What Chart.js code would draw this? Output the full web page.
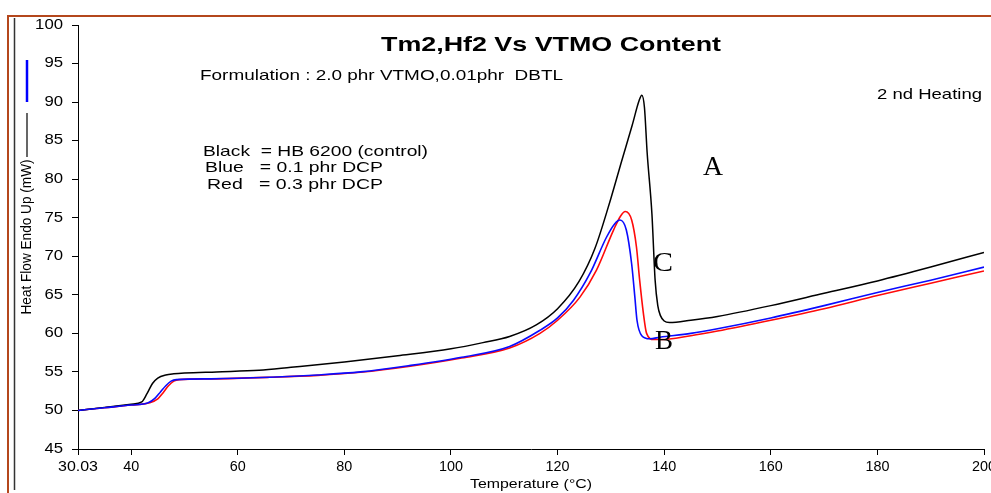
<!DOCTYPE html>
<html>
<head>
<meta charset="utf-8">
<script src="https://cdn.jsdelivr.net/npm/chart.js@4.4.1/dist/chart.umd.min.js"></script>
<style>
  html, body { margin: 0; padding: 0; background: #fff; }
  #wrap { position: relative; width: 991px; height: 493px; }
</style>
</head>
<body>
<div id="wrap"><canvas id="dsc" width="991" height="493"></canvas></div>
<script>
// DSC traces (Temperature in °C, Heat Flow in mW)
const blackTemp = [30.03, 35, 40, 42, 43, 44, 45, 46.5, 48, 50, 56, 64, 70, 80, 90, 100, 106, 111, 116, 120, 124, 127, 130, 132, 134, 135.3, 135.8, 136.3, 136.8, 137.7, 138.3, 138.8, 139.3, 140.0, 141.0, 145, 150, 160, 170, 180, 190, 200];
const blackFlow = [50.0, 50.4, 50.8, 51.1, 52.2, 53.5, 54.2, 54.6, 54.75, 54.85, 55.0, 55.2, 55.6, 56.3, 57.1, 58.0, 58.8, 59.6, 61.1, 63.2, 66.7, 71.0, 77.5, 82.3, 87.0, 90.2, 90.9, 89.3, 83.5, 75.5, 66.9, 63.6, 62.3, 61.6, 61.4, 61.7, 62.2, 63.6, 65.2, 66.8, 68.6, 70.5];

const blueTemp = [30.03, 35, 40, 43.2, 44.5, 45.5, 46.5, 47.5, 48.5, 55, 66, 75, 83, 92, 102, 111, 116.7, 120, 123, 126.1, 129.2, 130.7, 131.7, 132.9, 133.9, 134.5, 134.9, 135.8, 137.3, 139.2, 145, 150, 160, 170, 180, 190, 200];
const blueFlow = [50.0, 50.35, 50.7, 51.0, 51.6, 52.4, 53.2, 53.8, 54.0, 54.1, 54.3, 54.6, 55.0, 55.8, 56.9, 58.3, 60.4, 62.0, 64.3, 67.8, 72.5, 74.2, 74.7, 73.4, 69.0, 64.7, 61.7, 59.7, 59.3, 59.5, 60.0, 60.6, 62.0, 63.6, 65.3, 66.9, 68.6];

const redTemp = [30.03, 35, 40, 43.5, 45, 46, 47, 48, 49, 55, 66, 75, 83, 92, 102, 111, 116.7, 120, 124.2, 127.3, 130.5, 131.8, 132.7, 133.9, 134.8, 135.4, 136.1, 136.7, 138.0, 139.2, 145, 150, 160, 170, 180, 190, 200];
const redFlow = [50.0, 50.35, 50.7, 51.0, 51.5, 52.3, 53.2, 53.8, 54.0, 54.1, 54.3, 54.55, 54.95, 55.7, 56.8, 58.1, 60.0, 61.7, 64.7, 68.2, 73.4, 75.2, 75.8, 74.7, 71.2, 66.9, 62.6, 60.0, 59.2, 59.2, 59.7, 60.3, 61.7, 63.2, 64.9, 66.5, 68.1];

const xTicks = [30.03, 40, 60, 80, 100, 120, 140, 160, 180, 200];
const yTicks = [45, 50, 55, 60, 65, 70, 75, 80, 85, 90, 95, 100];

const titleText = 'Tm2,Hf2 Vs VTMO Content';
const formulationText = 'Formulation : 2.0 phr VTMO,0.01phr  DBTL';
const heatingText = '2 nd Heating';
const keyLines = ['Black  = HB 6200 (control)', 'Blue   = 0.1 phr DCP', 'Red   = 0.3 phr DCP'];
const xTitle = 'Temperature (\u00B0C)';
const yTitle = 'Heat Flow Endo Up (mW)';

const SANS = "'Liberation Sans', Arial, sans-serif";
const SERIF = "'Liberation Serif', 'Times New Roman', serif";

function toPoints(xs, ys) {
  return xs.map((x, i) => ({ x: x, y: ys[i] }));
}

// text squeezed / stretched horizontally to a given width (the scan is wider than tall)
function fitText(ctx, txt, x, y, font, width, align) {
  ctx.save();
  ctx.font = font;
  ctx.textBaseline = 'middle';
  ctx.textAlign = 'left';
  const natural = ctx.measureText(txt).width;
  const sx = width ? width / natural : 1;
  const w = natural * sx;
  let left = x;
  if (align === 'center') left = x - w / 2;
  if (align === 'right') left = x - w;
  ctx.translate(left, y);
  ctx.scale(sx, 1);
  ctx.fillText(txt, 0, 0);
  ctx.restore();
}

const decorations = {
  id: 'decorations',
  beforeDraw(chart) {
    const ctx = chart.ctx;
    ctx.save();
    ctx.fillStyle = '#fff';
    ctx.fillRect(0, 0, chart.width, chart.height);
    // scanned frame
    ctx.strokeStyle = '#b4471c';
    ctx.lineWidth = 2;
    ctx.beginPath();
    ctx.moveTo(8, 493);
    ctx.lineTo(8, 16);
    ctx.lineTo(991, 16);
    ctx.stroke();
    ctx.strokeStyle = '#333';
    ctx.lineWidth = 1.5;
    ctx.beginPath();
    ctx.moveTo(14.5, 18);
    ctx.lineTo(14.5, 490);
    ctx.stroke();
    ctx.restore();
  },
  afterDraw(chart) {
    const ctx = chart.ctx;
    const xs = chart.scales.x;
    const ys = chart.scales.y;
    ctx.save();
    ctx.fillStyle = '#000';

    // tick labels from the scales
    xs.ticks.forEach(t => {
      const px = xs.getPixelForValue(t.value);
      const label = t.value === 30.03 ? '30.03' : String(t.value);
      fitText(ctx, label, px, 467, '14px ' + SANS, label.length * 8, 'center');
    });
    ys.ticks.forEach(t => {
      const py = ys.getPixelForValue(t.value);
      const label = String(t.value);
      fitText(ctx, label, 63, py, '14px ' + SANS, label.length * 9.3, 'right');
    });

    fitText(ctx, xTitle, 531, 484, '13px ' + SANS, 122, 'center');

    // y axis title with the line keys
    ctx.save();
    ctx.translate(27, 237);
    ctx.rotate(-Math.PI / 2);
    fitText(ctx, yTitle, 0, 0, '14px ' + SANS, 155, 'center');
    ctx.restore();
    ctx.lineWidth = 2.5;
    ctx.strokeStyle = '#0000ff';
    ctx.beginPath(); ctx.moveTo(27, 60); ctx.lineTo(27, 102); ctx.stroke();
    ctx.lineWidth = 1.2;
    ctx.strokeStyle = '#000';
    ctx.beginPath(); ctx.moveTo(27, 113); ctx.lineTo(27, 157); ctx.stroke();

    fitText(ctx, titleText, 381, 45, 'bold 21px ' + SANS, 340, 'left');
    fitText(ctx, formulationText, 200, 76, '15px ' + SANS, 363, 'left');
    fitText(ctx, heatingText, 877, 95, '15px ' + SANS, 105, 'left');
    fitText(ctx, keyLines[0], 203, 152, '15px ' + SANS, 225, 'left');
    fitText(ctx, keyLines[1], 205, 168, '15px ' + SANS, 178, 'left');
    fitText(ctx, keyLines[2], 207, 185, '15px ' + SANS, 176, 'left');

    fitText(ctx, 'A', 703, 168, '28px ' + SERIF, 20, 'left');
    fitText(ctx, 'C', 653, 264, '28px ' + SERIF, 20, 'left');
    fitText(ctx, 'B', 655, 342, '28px ' + SERIF, 18, 'left');
    ctx.restore();
  }
};

const axisGrid = { display: true, drawOnChartArea: false, drawTicks: true, tickLength: 6, color: '#000', lineWidth: 1 };

new Chart(document.getElementById('dsc'), {
  type: 'line',
  data: {
    datasets: [
      { label: 'Blue = 0.1 phr DCP', data: toPoints(blueTemp, blueFlow), borderColor: '#0a0aff', borderWidth: 1.6 },
      { label: 'Black = HB 6200 (control)', data: toPoints(blackTemp, blackFlow), borderColor: '#000', borderWidth: 1.5 },
      { label: 'Red = 0.3 phr DCP', data: toPoints(redTemp, redFlow), borderColor: '#ff0a0a', borderWidth: 1.6 }
    ]
  },
  options: {
    responsive: false,
    animation: false,
    events: [],
    layout: { padding: { left: 0, top: 25, right: 7, bottom: 0 } },
    elements: {
      point: { radius: 0 },
      line: { cubicInterpolationMode: 'monotone', fill: false }
    },
    plugins: {
      legend: { display: false },
      title: { display: false },
      tooltip: { enabled: false }
    },
    scales: {
      x: {
        type: 'linear',
        min: 30.03,
        max: 200,
        afterBuildTicks: s => { s.ticks = xTicks.map(v => ({ value: v })); },
        afterFit: s => { s.height = 44; s.paddingLeft = 0; s.paddingRight = 0; },
        ticks: { display: false },
        grid: axisGrid,
        border: { display: true, color: '#000', width: 1 }
      },
      y: {
        type: 'linear',
        min: 45,
        max: 100,
        afterBuildTicks: s => { s.ticks = yTicks.map(v => ({ value: v })); },
        afterFit: s => { s.width = 78; s.paddingTop = 0; s.paddingBottom = 0; },
        ticks: { display: false },
        grid: axisGrid,
        border: { display: true, color: '#000', width: 1 }
      }
    }
  },
  plugins: [decorations]
});
</script>
</body>
</html>
